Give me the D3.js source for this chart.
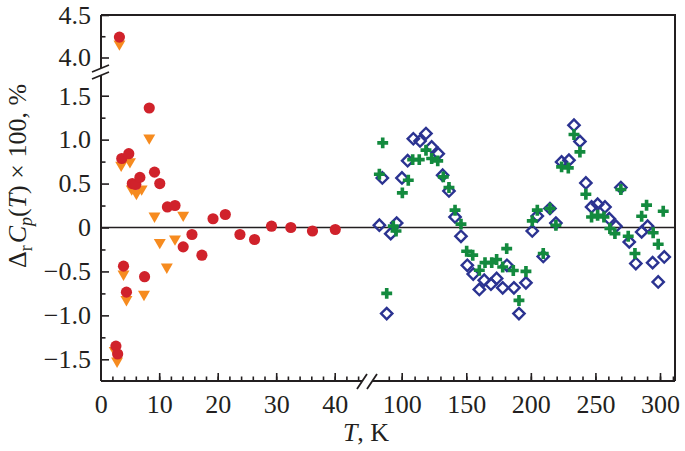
<!DOCTYPE html>
<html>
<head>
<meta charset="utf-8">
<script src="https://cdn.jsdelivr.net/npm/d3@7"></script>
<style>
  html, body { margin: 0; padding: 0; background: #fff; }
  svg { display: block; font-family: "Liberation Serif", "Times New Roman", serif; }
</style>
</head>
<body>
<div id="chart"></div>
<script>
// low-temperature series (left panel, 0..45 K)
const redT = [3.2, 2.6, 2.9, 3.6, 4.8, 3.9, 4.4, 5.4, 6.0, 6.7, 7.5, 8.3, 9.2, 10.1, 11.4, 12.7, 14.1, 15.6, 17.3, 19.2, 21.3, 23.8, 26.3, 29.2, 32.5, 36.2, 40.1];
const redDev = [4.24, -1.35, -1.44, 0.785, 0.84, -0.44, -0.736, 0.50, 0.49, 0.57, -0.56, 1.36, 0.63, 0.50, 0.234, 0.25, -0.22, -0.08, -0.315, 0.10, 0.148, -0.08, -0.137, 0.015, 0.0, -0.04, -0.023];
const orangeT = [3.2, 2.4, 2.8, 3.5, 5.0, 3.9, 4.4, 5.3, 6.1, 7.0, 7.4, 8.3, 9.2, 10.1, 11.3, 12.7, 14.1];
const orangeDev = [4.16, -1.40, -1.52, 0.71, 0.75, -0.53, -0.82, 0.44, 0.39, 0.44, -0.76, 1.02, 0.13, -0.17, -0.45, -0.13, 0.14];

// high-temperature series (right panel, 75..310 K)
const blueT = [85.0, 82.7, 91.5, 96.1, 88.4, 100.2, 104.6, 109.0, 114.2, 118.8, 123.2, 128.3, 131.7, 136.6, 141.3, 145.9, 150.8, 155.4, 160.1, 163.9, 169.1, 173.5, 178.2, 181.5, 186.9, 190.8, 196.2, 201.1, 205.0, 209.6, 214.8, 219.4, 223.8, 229.5, 233.4, 238.0, 242.6, 247.0, 251.7, 257.4, 260.7, 265.9, 269.7, 276.2, 281.3, 285.8, 290.4, 294.3, 298.6, 303.3];
const blueDev = [0.564, 0.026, -0.07, 0.05, -0.98, 0.564, 0.76, 1.01, 0.985, 1.07, 0.917, 0.84, 0.595, 0.416, 0.12, -0.1, -0.43, -0.53, -0.705, -0.6, -0.645, -0.58, -0.687, -0.43, -0.687, -0.98, -0.63, -0.04, 0.13, -0.33, 0.216, 0.05, 0.746, 0.766, 1.164, 0.98, 0.507, 0.234, 0.265, 0.234, 0.10, 0.015, 0.455, -0.164, -0.41, -0.05, 0.015, -0.40, -0.62, -0.335];
const greenT = [85.3, 82.7, 88.4, 93.5, 95.6, 100.5, 105.1, 108.5, 113.6, 118.8, 123.2, 127.9, 132.2, 136.6, 141.3, 145.9, 150.3, 155.0, 160.1, 164.5, 169.7, 173.5, 181.3, 178.2, 186.4, 190.8, 196.2, 201.1, 205.0, 209.6, 214.8, 219.4, 223.8, 229.0, 233.4, 238.0, 242.6, 247.0, 251.7, 256.6, 261.2, 265.1, 269.7, 275.4, 280.6, 285.8, 289.6, 294.7, 298.6, 302.5];
const greenDev = [0.963, 0.606, -0.75, 0.015, -0.04, 0.394, 0.538, 0.773, 0.773, 0.88, 0.785, 0.758, 0.576, 0.455, 0.197, 0.038, -0.27, -0.315, -0.486, -0.40, -0.40, -0.364, -0.24, -0.45, -0.49, -0.83, -0.50, 0.075, 0.197, -0.296, 0.216, 0.026, 0.69, 0.678, 1.058, 0.86, 0.379, 0.12, 0.14, 0.12, -0.011, -0.07, 0.432, -0.1, -0.296, 0.128, 0.254, -0.06, -0.19, 0.185];

// ticks
const xTicksLeft = [0, 10, 20, 30, 40];
const xTicksRight = [100, 150, 200, 250, 300];
const yTicksLow = [-1.5, -1.0, -0.5, 0, 0.5, 1.0, 1.5];
const yTicksHigh = [4.0, 4.5];

const W = 685, H = 451;
const plot = { left: 101, right: 675, top: 15, bottom: 381 };
const breakX = { a: 362, b: 372 };
const breakY = { a: 68, b: 75 };

const svg = d3.select('#chart').append('svg')
  .attr('width', W).attr('height', H);

// scales for the two x panels and the two y panels
const xL = d3.scaleLinear().domain([0, 40]).range([100.7, 334.7]);
const xR = d3.scaleLinear().domain([100, 300]).range([401.7, 660]);
const yB = d3.scaleLinear().domain([-1.5, 1.5]).range([359.3, 95.7]);
const yT = d3.scaleLinear().domain([4.0, 4.5]).range([57.5, 15]);

const px = (t) => (t < 60 ? xL(t) : xR(t));
const py = (v) => (v > 3 ? yT(v) : yB(v));

const ink = '#231f20';
const fontSize = 26;

// zero line
svg.append('line')
  .attr('x1', plot.left).attr('x2', plot.right)
  .attr('y1', yB(0)).attr('y2', yB(0))
  .attr('stroke', ink).attr('stroke-width', 1.6);

// frame (top and right) and axes with breaks
const frame = svg.append('g').attr('stroke', ink).attr('stroke-width', 2).attr('fill', 'none');
frame.append('path').attr('d', `M${plot.left},${plot.top}H${plot.right}V${plot.bottom}`);
frame.append('path').attr('d', `M${plot.left},${plot.bottom}H${breakX.a}M${breakX.b},${plot.bottom}H${plot.right}`);
frame.append('path').attr('d', `M${plot.left},${plot.top}V${breakY.a}M${plot.left},${breakY.b}V${plot.bottom}`);
// break marks
frame.append('path').attr('stroke-width', 1.8)
  .attr('d', `M${breakX.a - 5},${plot.bottom + 8}L${breakX.a + 5},${plot.bottom - 7}` +
             `M${breakX.b - 5},${plot.bottom + 8}L${breakX.b + 5},${plot.bottom - 7}`);
frame.append('path').attr('stroke-width', 1.8)
  .attr('d', `M${plot.left - 9},${breakY.a + 4}L${plot.left + 8},${breakY.a - 3}` +
             `M${plot.left - 9},${breakY.b + 4}L${plot.left + 8},${breakY.b - 3}`);

function styleAxis(g) {
  g.select('.domain').remove();
  g.selectAll('.tick line').attr('stroke', ink).attr('stroke-width', 1.6);
  g.selectAll('.tick text')
    .attr('fill', ink)
    .attr('font-size', fontSize)
    .attr('font-family', '"Liberation Serif", "Times New Roman", serif');
}

const xAxisG = svg.append('g').attr('transform', `translate(0,${plot.bottom})`);
// minor x ticks
xAxisG.append('g').call(d3.axisBottom(xL).tickValues(d3.range(2, 45, 2)).tickSize(-4.5).tickFormat('')).call(styleAxis);
xAxisG.append('g').call(d3.axisBottom(xR).tickValues(d3.range(90, 311, 10)).tickSize(-4.5).tickFormat('')).call(styleAxis);
// major x ticks
xAxisG.append('g').call(d3.axisBottom(xL).tickValues(xTicksLeft).tickSize(-8).tickPadding(13.5).tickFormat(d3.format('d'))).call(styleAxis);
xAxisG.append('g').call(d3.axisBottom(xR).tickValues(xTicksRight).tickSize(-8).tickPadding(13.5).tickFormat(d3.format('d'))).call(styleAxis);

const fmtY = (d) => (d === 0 ? '0' : d3.format('.1f')(d).replace('-', '\u2212'));
const yAxisG = svg.append('g').attr('transform', `translate(${plot.left},0)`);
yAxisG.append('g').call(d3.axisLeft(yB).tickValues(d3.range(-1.25, 1.6, 0.5)).tickSize(-4.5).tickFormat('')).call(styleAxis);
yAxisG.append('g').call(d3.axisLeft(yT).tickValues([4.25]).tickSize(-4.5).tickFormat('')).call(styleAxis);
yAxisG.append('g').call(d3.axisLeft(yB).tickValues(yTicksLow).tickSize(-8).tickPadding(10).tickFormat(fmtY)).call(styleAxis);
yAxisG.append('g').call(d3.axisLeft(yT).tickValues(yTicksHigh).tickSize(-8).tickPadding(10).tickFormat(fmtY)).call(styleAxis);

// axis titles
const xt = svg.append('text')
  .attr('x', 366).attr('y', 441)
  .attr('text-anchor', 'middle')
  .attr('font-size', fontSize).attr('fill', ink);
xt.append('tspan').attr('font-style', 'italic').text('T');
xt.append('tspan').text(', K');

const yt = svg.append('text')
  .attr('transform', 'translate(26,176) rotate(-90)')
  .attr('text-anchor', 'middle')
  .attr('font-size', fontSize).attr('fill', ink);
yt.append('tspan').text('\u0394');
yt.append('tspan').attr('font-size', 18).attr('dy', 6).text('r');
yt.append('tspan').attr('font-style', 'italic').attr('dy', -6).attr('dx', 2).text('C');
yt.append('tspan').attr('font-style', 'italic').attr('font-size', 18).attr('dy', 6).text('p');
yt.append('tspan').attr('dy', -6).text('(');
yt.append('tspan').attr('font-style', 'italic').text('T');
yt.append('tspan').text(') \u00d7 100, %');

// markers
const marks = svg.append('g');
const pairs = (t, v) => t.map((d, i) => [d, v[i]]);

marks.append('g').selectAll('path')
  .data(pairs(orangeT, orangeDev)).join('path')
  .attr('d', d3.symbol(d3.symbolTriangle, 62))
  .attr('transform', (d) => `translate(${px(d[0])},${py(d[1])}) rotate(180)`)
  .attr('fill', '#f68b1f');

marks.append('g').selectAll('path')
  .data(pairs(redT, redDev)).join('path')
  .attr('d', d3.symbol(d3.symbolCircle, 98))
  .attr('transform', (d) => `translate(${px(d[0])},${py(d[1])})`)
  .attr('fill', '#d0222b');

marks.append('g').selectAll('path')
  .data(pairs(blueT, blueDev)).join('path')
  .attr('d', d3.symbol(d3.symbolSquare, 64))
  .attr('transform', (d) => `translate(${px(d[0])},${py(d[1])}) rotate(45)`)
  .attr('fill', 'none')
  .attr('stroke', '#2b3391')
  .attr('stroke-width', 2.4);

marks.append('g').selectAll('path')
  .data(pairs(greenT, greenDev)).join('path')
  .attr('d', d3.symbol(d3.symbolCross, 66))
  .attr('transform', (d) => `translate(${px(d[0])},${py(d[1])})`)
  .attr('fill', '#138a3e');
</script>
</body>
</html>
